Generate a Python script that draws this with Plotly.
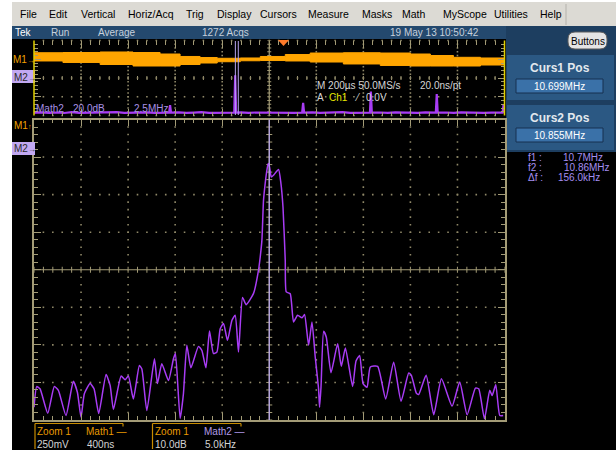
import plotly.graph_objects as go

W, H = 616, 451

# ---------------------------------------------------------------- data
# Zoomed Math2 spectrum: offset from the cursor-1 frequency (kHz) and level (dB)
zoom_offset_khz = [
    -25.0, -24.71, -24.36, -23.54, -22.84, -22.41, -21.60, -20.82, -20.39, -20.0,
    -19.65, -19.04, -18.62, -18.12, -17.34, -16.91, -16.56, -15.74, -15.32, -14.97,
    -14.44, -13.80, -13.54, -13.01, -12.20, -11.88, -11.42, -10.71, -10.18, -9.97,
    -9.47, -9.12, -8.76, -8.33, -7.52, -7.16, -6.73, -6.35, -5.93, -5.56,
    -5.21, -4.86, -4.44, -3.97, -3.62, -3.27, -2.84, -2.45, -1.67, -1.14,
    -0.96, -0.78, -0.61, -0.43, -0.25, -0.11, 0.03, 0.21, 0.46, 0.99,
    1.24, 1.46, 1.70, 1.81, 2.23, 2.58, 3.01, 3.48, 3.75, 4.18,
    4.54, 4.89, 5.24, 5.35, 5.50, 5.78, 6.06, 6.56, 7.27, 7.66,
    8.09, 8.86, 9.22, 9.61, 9.97, 10.39, 10.74, 11.52, 12.37, 13.22,
    14.01, 14.82, 15.10, 15.64, 15.88, 16.67, 17.48, 18.30, 19.43, 20.24,
    21.03, 21.91, 22.26, 22.87, 23.43, 23.69, 24.07, 24.50, 24.86,
]
zoom_level_db = [
    -76.6, -71.1, -71.7, -78.2, -71.1, -72.1, -78.8, -69.7, -72.6, -79.3,
    -73.0, -70.3, -71.7, -78.3, -67.9, -70.8, -77.2, -68.3, -69.3, -68.3,
    -74.4, -65.5, -66.4, -77.5, -63.7, -70.3, -65.0, -69.5, -63.7, -62.3,
    -79.6, -73.0, -60.1, -66.1, -60.4, -61.5, -66.1, -56.3, -62.3, -61.9,
    -55.7, -54.3, -58.8, -53.5, -52.1, -61.9, -47.4, -49.3, -46.3, -40.1,
    -36.6, -32.1, -21.5, -17.0, -13.5, -11.7, -12.6, -15.3, -14.8, -13.3,
    -17.0, -23.3, -37.5, -45.9, -46.4, -53.9, -52.1, -52.8, -51.9, -60.1,
    -53.9, -63.3, -71.7, -76.6, -71.3, -56.4, -57.9, -67.4, -59.7, -65.7,
    -60.8, -71.1, -64.3, -62.8, -70.3, -71.3, -65.9, -65.7, -74.4, -64.6,
    -75.0, -67.5, -68.1, -72.9, -73.2, -68.1, -78.6, -69.0, -76.3, -69.9,
    -78.6, -71.5, -71.7, -79.7, -72.1, -73.5, -70.6, -78.8, -78.8,
]

# Math2 overview spectrum (MHz, dB)
ov_freq_mhz = [
    0.0, 0.4, 0.8, 1.2, 1.6, 2.0, 2.4, 2.8, 3.2, 3.6, 4.0, 4.4, 4.8, 5.2, 5.6,
    6.0, 6.4, 6.8, 7.18, 7.23, 7.28, 7.7, 8.1, 8.5, 8.9, 9.3, 9.7, 10.1, 10.5,
    10.64, 10.69, 10.74, 11.0, 11.4, 11.8, 12.2, 12.6, 13.0, 13.4, 13.8, 14.25,
    14.3, 14.35, 14.8, 15.2, 15.6, 16.0, 16.4, 16.8, 17.2, 17.6, 17.85, 17.9,
    17.95, 18.4, 18.8, 19.2, 19.6, 20.0, 20.4, 20.8, 21.2, 21.35, 21.4, 21.45,
    21.9, 22.3, 22.7, 23.1, 23.5, 23.9, 24.3, 24.7, 24.9, 24.95, 25.0,
]
ov_level_db = [
    -77.0, -76.6, -77.2, -76.8, -77.3, -76.5, -77.1, -76.9, -77.4, -76.7, -77.0, -76.4, -77.2, -76.8, -77.1,
    -76.6, -77.3, -76.9, -77.0, -69.0, -77.0, -76.6, -77.2, -76.9, -76.5, -77.1, -76.8, -77.2, -76.7,
    -76.9, -37.0, -76.9, -76.6, -77.2, -76.8, -77.0, -76.5, -77.3, -76.9, -77.1, -77.0,
    -66.5, -77.0, -76.6, -77.2, -76.8, -77.0, -76.5, -77.2, -76.9, -76.7, -77.0, -54.5,
    -77.0, -76.8, -77.2, -76.6, -77.0, -76.9, -77.3, -76.6, -77.1, -77.0, -57.0, -77.0,
    -76.8, -77.2, -76.7, -77.0, -76.6, -77.1, -76.9, -77.0, -77.0, -68.5, -77.0,
]

# M1 envelope over the 2 ms record (upper / lower edge, volts)
env_time_us = [0, 123, 281, 421, 536, 621, 706, 779, 877, 962, 1068, 1174,
               1315, 1472, 1600, 1685, 1783, 1898, 2000]
env_upper_v = [0.337, 0.340, 0.347, 0.340, 0.320, 0.287, 0.273, 0.263, 0.267, 0.287,
               0.313, 0.333, 0.337, 0.333, 0.320, 0.300, 0.276, 0.267, 0.267]
env_lower_v = [0.227, 0.207, 0.180, 0.160, 0.160, 0.180, 0.200, 0.217, 0.230, 0.233,
               0.227, 0.213, 0.187, 0.167, 0.160, 0.160, 0.160, 0.173, 0.187]

cursor_mhz = [10.699, 10.855]
center_mhz = cursor_mhz[0]

# ---------------------------------------------------------------- helpers
def X(px):
    return px / W


def Y(py):
    return 1 - py / H


GRID = "#8f8868"
FRAME = "#a39b76"
PURPLE = "#a83cf4"
LAVENDER = "#b8a4f0"
ORANGE = "#ffa500"
FONT = "Liberation Sans, Arial, sans-serif"

shapes = []
annotations = []


def rect(x0, y0, x1, y1, fill, line=None, lw=0, layer="below"):
    shapes.append(dict(type="rect", xref="paper", yref="paper",
                       x0=X(x0), x1=X(x1), y0=Y(y1), y1=Y(y0),
                       fillcolor=fill, line=dict(color=line or fill, width=lw),
                       layer=layer))


def seg(x0, y0, x1, y1, color, lw=1, layer="above"):
    shapes.append(dict(type="line", xref="paper", yref="paper",
                       x0=X(x0), x1=X(x1), y0=Y(y0), y1=Y(y1),
                       line=dict(color=color, width=lw), layer=layer))


def text(x, y, s, color="#d8d8d8", size=10, anchor="left", bold=False):
    if bold:
        s = "<b>" + s + "</b>"
    annotations.append(dict(x=X(x), y=Y(y), xref="paper", yref="paper", text=s,
                            showarrow=False, xanchor=anchor, yanchor="middle",
                            font=dict(family=FONT, size=size, color=color),
                            borderpad=0))


def small(s, px):
    return f"<span style='font-size:{px}px'>{s}</span>"


# ---------------------------------------------------------------- window chrome
rect(12, 2, 616, 26, "#dcdad4")
seg(566, 4, 566, 25, "#b4b2ac", 1, layer="below")
rect(12, 26, 616, 39, "#24496e")
rect(12, 39, 616, 450, "#000000")
rect(506, 26, 616, 152, "#1d3e60")
rect(507, 55, 614, 100, "#2b5883")
rect(507, 105, 614, 150, "#2b5883")
rect(516, 79, 603, 93, "#3a71a8", line="#163150", lw=1)
rect(516, 128, 603, 142, "#3a71a8", line="#163150", lw=1)

# rounded "Buttons" key
bx0, by0, bx1, by1, r = 568, 32, 607, 49, 7
path = (f"M {X(bx0 + r)},{Y(by0)} L {X(bx1 - r)},{Y(by0)} "
        f"Q {X(bx1)},{Y(by0)} {X(bx1)},{Y(by0 + r)} L {X(bx1)},{Y(by1 - r)} "
        f"Q {X(bx1)},{Y(by1)} {X(bx1 - r)},{Y(by1)} L {X(bx0 + r)},{Y(by1)} "
        f"Q {X(bx0)},{Y(by1)} {X(bx0)},{Y(by1 - r)} L {X(bx0)},{Y(by0 + r)} "
        f"Q {X(bx0)},{Y(by0)} {X(bx0 + r)},{Y(by0)} Z")
shapes.append(dict(type="path", xref="paper", yref="paper", path=path,
                   fillcolor="#e4e4e4", line=dict(color="#5a5a5a", width=1), layer="above"))

menu = [("File", 19), ("Edit", 48), ("Vertical", 80), ("Horiz/Acq", 127), ("Trig", 185),
        ("Display", 216), ("Cursors", 259), ("Measure", 307), ("Masks", 361),
        ("Math", 401), ("MyScope", 442), ("Utilities", 493), ("Help", 539)]
for label, x in menu:
    text(x, 14, label, color="#000000", size=10.5)

text(14, 33, "Tek", color="#ffffff")
for label, x in [("Run", 50), ("Average", 97), ("1272 Acqs", 201), ("19 May 13 10:50:42", 389)]:
    text(x, 33, label, color="#c6d0dc")
text(587.5, 41, "Buttons", color="#000000", anchor="center")

# right-hand cursor readouts
text(560, 68, "Curs1 Pos", color="#e2e8ee", size=12, anchor="center", bold=True)
text(559.5, 86.5, "10.699MHz", color="#ffffff", anchor="center")
text(560, 118, "Curs2 Pos", color="#e2e8ee", size=12, anchor="center", bold=True)
text(559.5, 135.5, "10.855MHz", color="#ffffff", anchor="center")
for lab, val, y, vx in [("f1 :", "10.7MHz", 157, 562), ("f2 :", "10.86MHz", 167.5, 563),
                        ("Δf :", "156.0kHz", 177.5, 557)]:
    text(527, y, lab, color="#a48ef0")
    text(vx, y, val, color="#a48ef0")

# channel markers on the left
text(12, 59, "M1" + small("→", 8), color="#f0a000", size=10)
rect(12, 70, 35, 83, "#c2a8f2", layer="above")
text(12.5, 77, "M2" + small("→", 8), color="#2a2a2a", size=10)
text(13, 126, "M1" + small("↑", 7), color="#f0a000", size=10)
rect(12, 142, 35, 155, "#c2a8f2", layer="above")
text(12.5, 148.5, "M2" + small("→", 8), color="#2a2a2a", size=10)

# overview readouts
text(35, 108, "Math2", color="#a890e4")
text(72, 108, "20.0dB", color="#a890e4")
text(133, 108, "2.5MHz", color="#a890e4")
text(316, 85, "M 200µs 50.0MS/s", color="#d6d6d6")
text(419, 85, "20.0ns/pt", color="#d6d6d6")
text(316, 97, "A", color="#d6d6d6")
text(328, 97, "Ch1", color="#e6e600")
text(353, 97, "⁄", color="#d6d6d6")
text(365, 97, "0.0V", color="#d6d6d6")

# bottom scale boxes
BOX = "#c88c00"
for x0, x1 in [(35, 123), (152.5, 241)]:
    seg(x0, 423.5, x0, 449, BOX, 1.2)
    seg(x0, 423.5, x1, 423.5, BOX, 1.2)
    seg(x1, 423.5, x1, 426.5, BOX, 1.2)
text(36, 431, "Zoom 1", color="#e89a00")
text(85, 431, "Math1 —", color="#e89a00")
text(36, 444, "250mV", color="#d4d4d4")
text(86, 444, "400ns", color="#d4d4d4")
text(154, 431, "Zoom 1", color="#e89a00")
text(203, 431, "Math2 —", color="#b09ae8")
text(154, 444, "10.0dB", color="#d4d4d4")
text(204, 444, "5.0kHz", color="#d4d4d4")

# trigger position marker
tri = f"M {X(278)},{Y(40)} L {X(289)},{Y(40)} L {X(283.5)},{Y(46)} Z"
shapes.append(dict(type="path", xref="paper", yref="paper", path=tri,
                   fillcolor="#ff7a2a", line=dict(width=0), layer="above"))

# ---------------------------------------------------------------- graticules
XDOM = [X(34), X(504.5)]
MAIN_Y = [Y(420), Y(119.5)]
OV_Y = [Y(115.5), Y(40.5)]


def axis_style(rng, dtick, minor, domain, line=True, **kw):
    d = dict(range=rng, dtick=dtick, tick0=rng[0], domain=domain, showgrid=False,
             showline=line, linecolor=FRAME, linewidth=1.5, mirror="ticks",
             ticks="inside", ticklen=7, tickcolor=FRAME, tickwidth=1,
             minor=dict(ticks="inside", ticklen=4, dtick=minor, tick0=rng[0],
                        tickcolor=FRAME, showgrid=False),
             showticklabels=False, zeroline=False, fixedrange=True)
    d.update(kw)
    return d


def frange(a, b, step):
    n = int(round((b - a) / step))
    return [a + i * step for i in range(n + 1)]


def dotted_grid(xr, yr, xmaj, ymaj, xmin, ymin, xc, yc, rows_extra=()):
    """Dot pattern of a scope graticule: dots every minor step along each major line."""
    gx, gy = [], []
    for xv in frange(xr[0], xr[1], xmaj)[1:-1]:
        if xc is not None and abs(xv - xc) < 1e-9:
            continue
        for yv in frange(yr[0], yr[1], ymin)[1:-1]:
            gx.append(xv)
            gy.append(yv)
    rows = [v for v in frange(yr[0], yr[1], ymaj)[1:-1]
            if yc is None or abs(v - yc) > 1e-9] + list(rows_extra)
    for yv in rows:
        for xv in frange(xr[0], xr[1], xmin)[1:-1]:
            gx.append(xv)
            gy.append(yv)
    return gx, gy


def center_cross(xref, yref, xr, yr, xmin, ymin, xc, yc, half=3, vertical_only=False):
    shapes.append(dict(type="line", xref=xref, yref=yref, x0=xc, x1=xc, y0=yr[0], y1=yr[1],
                       line=dict(color=FRAME, width=1.2), layer="below"))
    if not vertical_only:
        shapes.append(dict(type="line", xref=xref, yref=yref, x0=xr[0], x1=xr[1], y0=yc, y1=yc,
                           line=dict(color=FRAME, width=1.2), layer="below"))
    for k in frange(xr[0], xr[1], xmin):
        shapes.append(dict(type="line", xref=xref, yref=yref, ysizemode="pixel", yanchor=yc,
                           x0=k, x1=k, y0=-half, y1=half,
                           line=dict(color=FRAME, width=1), layer="below"))
    for k in frange(yr[0], yr[1], ymin):
        shapes.append(dict(type="line", xref=xref, yref=yref, xsizemode="pixel", xanchor=xc,
                           x0=-half, x1=half, y0=k, y1=k,
                           line=dict(color=FRAME, width=1), layer="below"))


center_cross("x", "y", [-25, 25], [-80, 0], 1, 2, 0, -40)
center_cross("x2", "y2", [0, 2000], [-0.5, 0.5], 40, 0.05, 1000, 0, half=2, vertical_only=True)

main_gx, main_gy = dotted_grid([-25, 25], [-80, 0], 5, 10, 1, 2, 0, -40)
ov_gx, ov_gy = dotted_grid([0, 2000], [-0.5, 0.5], 200, 0.25, 40, 0.05, 1000, None,
                           rows_extra=(0.5, -0.5))

# yellow side rails of the overview
seg(34, 40.5, 34, 115.5, "#e0d000", 1.5)
seg(504.5, 40.5, 504.5, 115.5, "#e0d000", 1.5)

# cursors
shapes.append(dict(type="line", xref="x", yref="paper", x0=(cursor_mhz[0] - center_mhz) * 1000,
                   x1=(cursor_mhz[0] - center_mhz) * 1000, y0=Y(420), y1=Y(119.5),
                   line=dict(color=LAVENDER, width=1.2), layer="above"))
for c in cursor_mhz:
    shapes.append(dict(type="line", xref="x3", yref="paper", x0=c, x1=c, y0=Y(115), y1=Y(41),
                       line=dict(color=LAVENDER, width=1), layer="above"))

# ---------------------------------------------------------------- traces
dot = dict(symbol="square", size=1.6, color=GRID, line=dict(width=0))
fig = go.Figure()
fig.add_trace(go.Scatter(x=main_gx, y=main_gy, xaxis="x", yaxis="y", mode="markers",
                         marker=dot, hoverinfo="skip"))
fig.add_trace(go.Scatter(x=ov_gx, y=ov_gy, xaxis="x2", yaxis="y2", mode="markers",
                         marker=dot, hoverinfo="skip", cliponaxis=False))
fig.add_trace(go.Scatter(x=env_time_us, y=env_lower_v, xaxis="x2", yaxis="y2", mode="lines",
                         line=dict(color=ORANGE, width=1, shape="hv"), hoverinfo="skip"))
fig.add_trace(go.Scatter(x=env_time_us, y=env_upper_v, xaxis="x2", yaxis="y2", mode="lines",
                         fill="tonexty", fillcolor=ORANGE,
                         line=dict(color=ORANGE, width=1, shape="hv"), hoverinfo="skip"))
fig.add_trace(go.Scatter(x=ov_freq_mhz, y=ov_level_db, xaxis="x3", yaxis="y3", mode="lines",
                         line=dict(color=PURPLE, width=2.2), hoverinfo="skip"))
fig.add_trace(go.Scatter(x=zoom_offset_khz, y=zoom_level_db, xaxis="x", yaxis="y", mode="lines",
                         line=dict(color=PURPLE, width=1.5, shape="spline", smoothing=0.5),
                         hoverinfo="skip"))

fig.update_layout(
    width=W, height=H, margin=dict(l=0, r=0, t=0, b=0),
    paper_bgcolor="#ffffff", plot_bgcolor="rgba(0,0,0,0)",
    showlegend=False, hovermode=False,
    xaxis=axis_style([-25, 25], 5, 1, XDOM, anchor="y"),
    yaxis=axis_style([-80, 0], 10, 2, MAIN_Y, anchor="x"),
    xaxis2=axis_style([0, 2000], 200, 40, XDOM, line=False, anchor="y2"),
    yaxis2=axis_style([-0.5, 0.5], 0.25, 0.05, OV_Y, line=False, anchor="x2"),
    xaxis3=dict(range=[0, 25], overlaying="x2", anchor="y3", visible=False, fixedrange=True),
    yaxis3=dict(range=[-80, 0], overlaying="y2", anchor="x3", visible=False, fixedrange=True),
    shapes=shapes, annotations=annotations,
)

fig.write_html("out.html")
